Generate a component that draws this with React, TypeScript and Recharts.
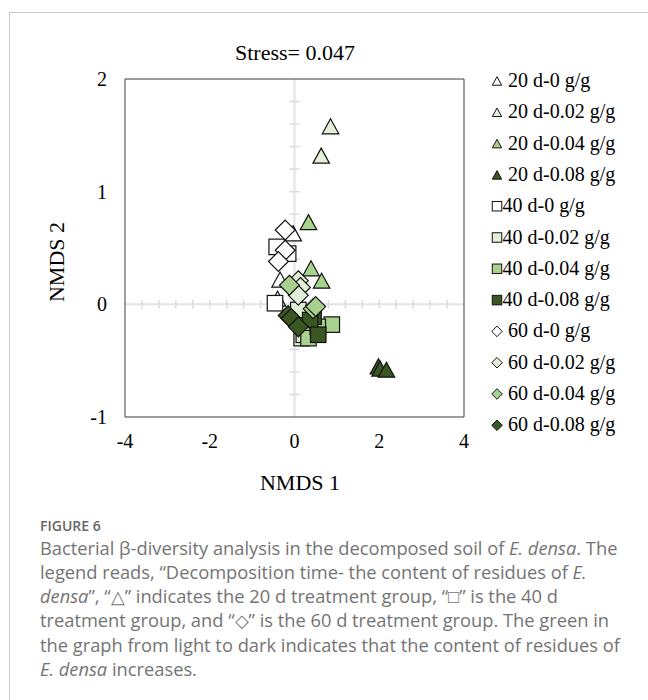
import React from "react";
import {
  ScatterChart,
  Scatter,
  XAxis,
  YAxis,
  ReferenceLine,
} from "recharts";

// NMDS ordination scores, three replicates per treatment
const d20_0 = [
  { x: -0.03, y: 0.63 },
  { x: -0.34, y: 0.22 },
  { x: -0.4, y: 0.05 },
];
const d20_002 = [
  { x: 0.85, y: 1.58 },
  { x: 0.63, y: 1.32 },
  { x: 0.12, y: 0.0 },
];
const d20_004 = [
  { x: 0.33, y: 0.73 },
  { x: 0.39, y: 0.32 },
  { x: 0.64, y: 0.21 },
];
const d20_008 = [
  { x: 1.98, y: -0.55 },
  { x: 2.02, y: -0.57 },
  { x: 2.17, y: -0.58 },
];
const d40_0 = [
  { x: -0.42, y: 0.51 },
  { x: -0.15, y: 0.45 },
  { x: -0.46, y: 0.01 },
];
const d40_002 = [
  { x: 0.09, y: -0.05 },
  { x: 0.17, y: -0.3 },
  { x: 0.22, y: -0.27 },
];
const d40_004 = [
  { x: 0.88, y: -0.18 },
  { x: 0.33, y: -0.3 },
  { x: 0.55, y: -0.2 },
];
const d40_008 = [
  { x: 0.45, y: -0.11 },
  { x: 0.37, y: -0.14 },
  { x: 0.56, y: -0.27 },
];
const d60_0 = [
  { x: -0.22, y: 0.66 },
  { x: -0.22, y: 0.48 },
  { x: -0.38, y: 0.38 },
];
const d60_002 = [
  { x: 0.09, y: 0.21 },
  { x: 0.14, y: 0.15 },
  { x: 0.09, y: 0.08 },
];
const d60_004 = [
  { x: -0.12, y: 0.17 },
  { x: 0.44, y: -0.04 },
  { x: 0.5, y: -0.02 },
];
const d60_008 = [
  { x: -0.15, y: -0.1 },
  { x: -0.08, y: -0.125 },
  { x: 0.09, y: -0.2 },
];

const xTicks = [-4, -2, 0, 2, 4];
const yTicks = [-1, 0, 1, 2];
// minor tick marks on the crossing zero lines
const xMinor = [-3.6, -3.2, -2.8, -2.4, -2, -1.6, -1.2, -0.8, -0.4, 0.4, 0.8, 1.2, 1.6, 2, 2.4, 2.8, 3.2, 3.6];
const yMinor = [-0.8, -0.6, -0.4, -0.2, 0.2, 0.4, 0.6, 0.8, 1, 1.2, 1.4, 1.6, 1.8];

const WHITE = "#ffffff";
const PALE = "#e2f0d9";
const MID = "#a9d18e";
const DARK = "#385723";
const EDGE = "#111111";

type Shape = "triangle" | "square" | "diamond";

const series: { name: string; data: { x: number; y: number }[]; fill: string; shape: Shape }[] = [
  { name: "20 d-0 g/g", data: d20_0, fill: WHITE, shape: "triangle" },
  { name: "20 d-0.02 g/g", data: d20_002, fill: PALE, shape: "triangle" },
  { name: "20 d-0.04 g/g", data: d20_004, fill: MID, shape: "triangle" },
  { name: "20 d-0.08 g/g", data: d20_008, fill: DARK, shape: "triangle" },
  { name: "40 d-0 g/g", data: d40_0, fill: WHITE, shape: "square" },
  { name: "40 d-0.02 g/g", data: d40_002, fill: PALE, shape: "square" },
  { name: "40 d-0.04 g/g", data: d40_004, fill: MID, shape: "square" },
  { name: "40 d-0.08 g/g", data: d40_008, fill: DARK, shape: "square" },
  { name: "60 d-0 g/g", data: d60_0, fill: WHITE, shape: "diamond" },
  { name: "60 d-0.02 g/g", data: d60_002, fill: PALE, shape: "diamond" },
  { name: "60 d-0.04 g/g", data: d60_004, fill: MID, shape: "diamond" },
  { name: "60 d-0.08 g/g", data: d60_008, fill: DARK, shape: "diamond" },
];

function marker(shape: Shape, cx: number, cy: number, s: number, fill: string, sw: number) {
  if (shape === "triangle") {
    const w = s * 1.1;
    const h = s;
    return (
      <polygon
        points={`${cx},${cy - h / 2} ${cx + w / 2},${cy + h / 2} ${cx - w / 2},${cy + h / 2}`}
        fill={fill}
        stroke={EDGE}
        strokeWidth={sw}
      />
    );
  }
  if (shape === "square") {
    return (
      <rect x={cx - s / 2} y={cy - s / 2} width={s} height={s} fill={fill} stroke={EDGE} strokeWidth={sw} />
    );
  }
  const r = s * 0.62;
  return (
    <polygon
      points={`${cx},${cy - r} ${cx + r},${cy} ${cx},${cy + r} ${cx - r},${cy}`}
      fill={fill}
      stroke={EDGE}
      strokeWidth={sw}
    />
  );
}

const serif = "'Liberation Serif', 'Times New Roman', serif";

const LegendBox = () => (
  <svg width={158} height={380} style={{ display: "block" }}>
    {series.map((s, i) => {
      const base = 27 + i * 31.3;
      const cy = base - 6;
      const textX = s.shape === "square" ? 14.5 : 20;
      return (
        <g key={s.name}>
          {marker(s.shape, 9, cy, s.shape === "square" ? 9.5 : 8.5, s.fill, 1)}
          <text x={textX} y={base} fontFamily={serif} fontSize={20} fill="#000">
            {s.name}
          </text>
        </g>
      );
    })}
  </svg>
);

const XTick = (props: any) => {
  const { x, payload } = props;
  return (
    <text x={x} y={448} textAnchor="middle" fontFamily={serif} fontSize={20} fill="#000">
      {payload.value}
    </text>
  );
};

const YTick = (props: any) => {
  const { y, payload } = props;
  return (
    <text x={107} y={y + 7} textAnchor="end" fontFamily={serif} fontSize={20} fill="#000">
      {payload.value}
    </text>
  );
};

const captionFont = "'Open Sans', 'Noto Sans', sans-serif";
const BORDER = "#3d3d3d";

export default function App() {
  return (
    <div style={{ position: "absolute", left: 0, top: 0, width: 648, height: 700, background: "#fff", overflow: "hidden" }}>
      <div
        style={{
          position: "absolute",
          left: 9,
          top: 12,
          width: 660,
          height: 700,
          borderLeft: "1px solid #c9c9c9",
          borderTop: "1px solid #c9c9c9",
        }}
      />
      <div style={{ position: "absolute", left: 0, top: 0 }}>
        <ScatterChart width={648} height={500} margin={{ top: 79, right: 184, bottom: 43, left: 85 }}>
          <XAxis
            type="number"
            dataKey="x"
            domain={[-4, 4]}
            ticks={xTicks}
            allowDataOverflow
            axisLine={false}
            tickLine={false}
            tick={<XTick />}
            height={40}
          />
          <YAxis
            type="number"
            dataKey="y"
            domain={[-1, 2]}
            ticks={yTicks}
            allowDataOverflow
            axisLine={false}
            tickLine={false}
            tick={<YTick />}
            width={40}
          />
          <ReferenceLine x={0} stroke="#e4e4e4" strokeWidth={2} />
          <ReferenceLine y={0} stroke="#e4e4e4" strokeWidth={2} />
          {yMinor.map((v) => (
            <ReferenceLine
              key={`ym${v}`}
              segment={[
                { x: -0.12, y: v },
                { x: 0.12, y: v },
              ]}
              stroke="#dcdcdc"
              strokeWidth={1.5}
            />
          ))}
          {xMinor.map((v) => (
            <ReferenceLine
              key={`xm${v}`}
              segment={[
                { x: v, y: -0.04 },
                { x: v, y: 0.04 },
              ]}
              stroke="#dcdcdc"
              strokeWidth={1.5}
            />
          ))}
          {/* plot-area frame */}
          <ReferenceLine x={-4} stroke={BORDER} strokeWidth={1} />
          <ReferenceLine x={4} stroke={BORDER} strokeWidth={1} />
          <ReferenceLine y={-1} stroke={BORDER} strokeWidth={1} />
          <ReferenceLine y={2} stroke={BORDER} strokeWidth={1} />
          {series.map((s) => (
            <Scatter
              key={s.name}
              name={s.name}
              data={s.data}
              isAnimationActive={false}
              shape={(p: any) => marker(s.shape, p.cx, p.cy, s.shape === "triangle" ? 15 : s.shape === "square" ? 15.5 : 16, s.fill, 1.2)}
            />
          ))}
        </ScatterChart>
      </div>
      <div style={{ position: "absolute", left: 488, top: 60 }}>
        <LegendBox />
      </div>
      <div
        style={{
          position: "absolute",
          left: 295,
          top: 38,
          transform: "translateX(-50%)",
          fontFamily: serif,
          fontSize: 22,
          color: "#000",
          lineHeight: "30px",
          whiteSpace: "nowrap",
        }}
      >
        Stress= 0.047
      </div>
      <div
        style={{
          position: "absolute",
          left: 300,
          top: 468,
          transform: "translateX(-50%)",
          fontFamily: serif,
          fontSize: 22,
          whiteSpace: "nowrap",
          lineHeight: "30px",
        }}
      >
        NMDS 1
      </div>
      <div
        style={{
          position: "absolute",
          left: 57,
          top: 262,
          transform: "translate(-50%, -50%) rotate(-90deg)",
          fontFamily: serif,
          fontSize: 22,
          whiteSpace: "nowrap",
          lineHeight: "30px",
        }}
      >
        NMDS 2
      </div>
      <svg width={648} height={200} style={{ position: "absolute", left: 0, top: 500 }}>
        <text x={40} y={31} fontFamily={captionFont} fontSize={14} fontWeight={600} fill="#666">
          FIGURE 6
        </text>
        <g fontFamily={captionFont} fontSize={18.3} fill="#747474">
          <text x={40} y={55}>
            Bacterial β-diversity analysis in the decomposed soil of <tspan fontStyle="italic">E. densa</tspan>. The
          </text>
          <text x={40} y={78.5}>
            legend reads, “Decomposition time- the content of residues of <tspan fontStyle="italic">E.</tspan>
          </text>
          <text x={40} y={102.5}>
            <tspan fontStyle="italic">densa</tspan>”, “△” indicates the 20 d treatment group, “□” is the 40 d
          </text>
          <text x={40} y={127}>
            treatment group, and “◇” is the 60 d treatment group. The green in
          </text>
          <text x={40} y={151.5}>
            the graph from light to dark indicates that the content of residues of
          </text>
          <text x={40} y={175.5}>
            <tspan fontStyle="italic">E. densa</tspan> increases.
          </text>
        </g>
      </svg>
    </div>
  );
}
